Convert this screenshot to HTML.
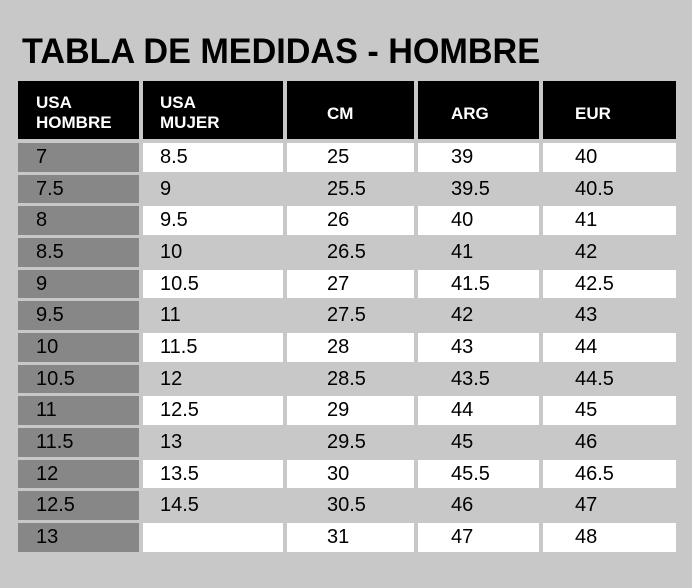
<!DOCTYPE html>
<html><head><style>
body{margin:0;width:692px;height:588px;background:#c8c8c8;position:relative;overflow:hidden;font-family:"Liberation Sans",sans-serif;}
.c{position:absolute;box-sizing:border-box;font-size:20px;line-height:28px;color:#000;}
.h{position:absolute;background:#000;color:#fff;font-weight:bold;font-size:17px;line-height:20px;box-sizing:border-box;}
</style></head><body>
<svg style="position:absolute;left:0;top:0" width="692" height="80"><text x="22" y="63" font-family="Liberation Sans" font-weight="bold" font-size="35" textLength="518" lengthAdjust="spacingAndGlyphs" fill="#000">TABLA DE MEDIDAS - HOMBRE</text></svg>
<div id="t"></div>
<script>
var cols=[[18,139,36],[143,283,160],[287,414,327],[418,539,451],[543,676,575]];
var heads=["USA<br>HOMBRE","USA<br>MUJER","CM","ARG","EUR"];
var html="";
cols.forEach(function(c,i){
 var two=i<2;
 html+='<div class="h" style="left:'+c[0]+'px;top:81px;width:'+(c[1]-c[0])+'px;height:58px;padding-left:'+(c[2]-c[0])+'px;padding-top:'+(two?12:23)+'px">'+heads[i]+'</div>';
});
var d=[["7","8.5","25","39","40"],["7.5","9","25.5","39.5","40.5"],["8","9.5","26","40","41"],["8.5","10","26.5","41","42"],["9","10.5","27","41.5","42.5"],["9.5","11","27.5","42","43"],["10","11.5","28","43","44"],["10.5","12","28.5","43.5","44.5"],["11","12.5","29","44","45"],["11.5","13","29.5","45","46"],["12","13.5","30","45.5","46.5"],["12.5","14.5","30.5","46","47"],["13","","31","47","48"]];
d.forEach(function(r,j){
 var y=143+j*31.67;
 r.forEach(function(v,i){
  var c=cols[i];var bg=i==0?"#878787":(j%2==0?"#fff":"transparent");
  html+='<div class="c" style="left:'+c[0]+'px;top:'+y+'px;width:'+(c[1]-c[0])+'px;height:28.5px;background:'+bg+';padding-left:'+(c[2]-c[0])+'px">'+v+'</div>';
 });
});
document.getElementById("t").innerHTML=html;
</script>
</body></html>
